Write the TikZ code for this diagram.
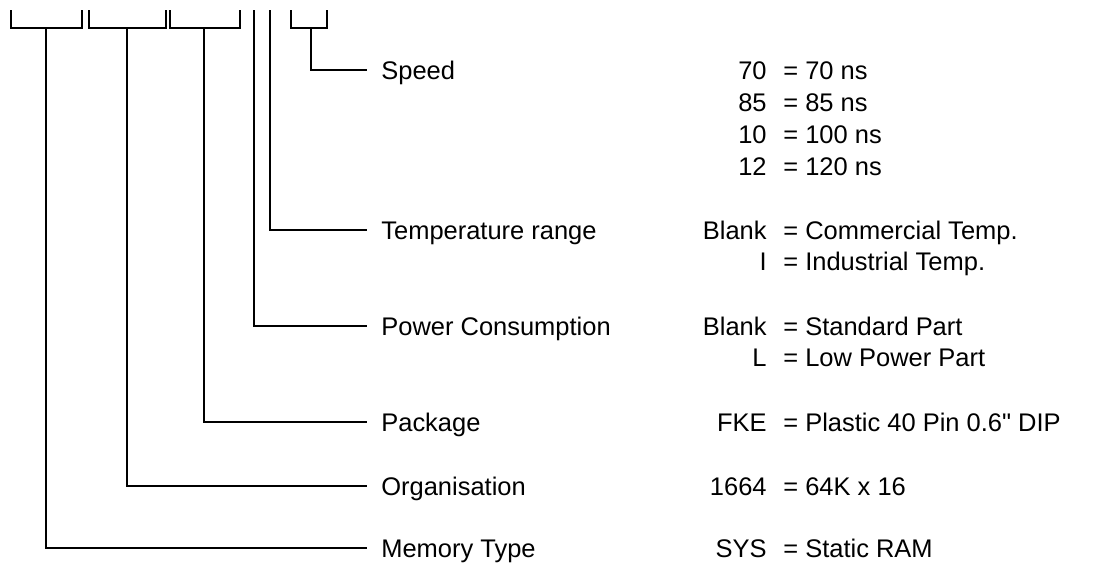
\documentclass[tikz,border=0pt]{standalone}
\usepackage{fontspec}
\setmainfont{Liberation Sans}
\newfontfamily\labelfont{Liberation Sans}
\usepackage{tikz}
\usetikzlibrary{positioning}

\tikzset{
  lead/.style={line width=1.3pt},
  txt/.style={inner ysep=0pt, text height=10.4pt, text depth=0pt,
    font=\labelfont\fontsize{14.5}{17}\selectfont},
  field/.style={txt, anchor=west, inner xsep=0.28cm},
  code/.style={txt, anchor=east, inner xsep=0pt},
  meaning/.style={txt, inner xsep=0pt, right=0.32cm of #1}
}

\begin{document}
\begin{tikzpicture}[x=0.02cm, y=-0.02cm]
  \useasboundingbox (0,0) rectangle (1095,568);
  % Feldnamen
  \node[field] (speed) at (367,70) {Speed};
  \node[field] (temp) at (367,230) {Temperature range};
  \node[field] (power) at (367,326) {Power Consumption};
  \node[field] (pkg) at (367,422) {Package};
  \node[field] (org) at (367,486) {Organisation};
  \node[field] (memtype) at (367,548) {Memory Type};
  % Klammern oben
  \draw[lead] (11,10) -- (11,28) -- (82,28) -- (82,10);
  \draw[lead] (89,10) -- (89,28) -- (166,28) -- (166,10);
  \draw[lead] (170,10) -- (170,28) -- (240,28) -- (240,10);
  \draw[lead] (291,10) -- (291,28) -- (327,28) -- (327,10);
  \coordinate (memroot) at (46,28);
  \coordinate (orgroot) at (127,28);
  \coordinate (pkgroot) at (204,28);
  \coordinate (powroot) at (254,10);
  \coordinate (temproot) at (270,10);
  \coordinate (speedroot) at (311,28);
  % Leitungen zu den Feldnamen
  \draw[lead] (memroot) |- (memtype.west);
  \draw[lead] (orgroot) |- (org.west);
  \draw[lead] (pkgroot) |- (pkg.west);
  \draw[lead] (powroot) |- (power.west);
  \draw[lead] (temproot) |- (temp.west);
  \draw[lead] (speedroot) |- (speed.west);
  % Speed
  \node[code] (s70) at (767,70) {70};
  \node[meaning=s70] (s70m) {= 70 ns};
  \node[code] (s85) at (767,102) {85};
  \node[meaning=s85] (s85m) {= 85 ns};
  \node[code] (s10) at (767,134) {10};
  \node[meaning=s10] (s10m) {= 100 ns};
  \node[code] (s12) at (767,166) {12};
  \node[meaning=s12] (s12m) {= 120 ns};
  % Temperatur
  \node[code] (tblank) at (767,230) {Blank};
  \node[meaning=tblank] (tblankm) {= Commercial Temp.};
  \node[code] (ti) at (767,261) {I};
  \node[meaning=ti] (tim) {= Industrial Temp.};
  % Leistung
  \node[code] (pblank) at (767,326) {Blank};
  \node[meaning=pblank] (pblankm) {= Standard Part};
  \node[code] (pl) at (767,357) {L};
  \node[meaning=pl] (plm) {= Low Power Part};
  % Gehaeuse, Organisation, Typ
  \node[code] (fke) at (767,422) {FKE};
  \node[meaning=fke] (fkem) {= Plastic 40 Pin 0.6" DIP};
  \node[code] (o1664) at (767,486) {1664};
  \node[meaning=o1664] (o1664m) {= 64K x 16};
  \node[code] (sys) at (767,548) {SYS};
  \node[meaning=sys] (sysm) {= Static RAM};
\end{tikzpicture}
\end{document}
